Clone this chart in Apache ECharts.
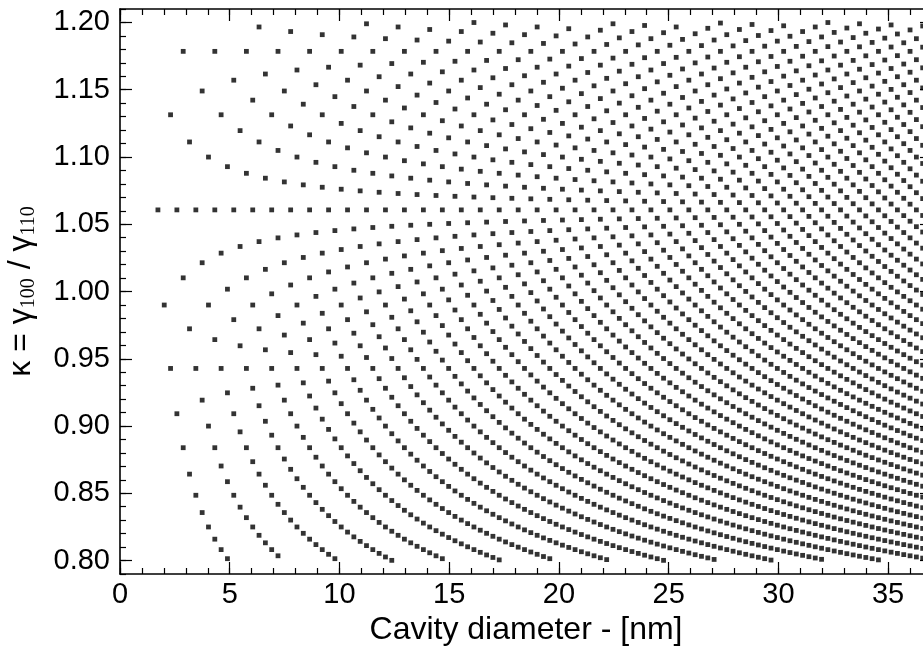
<!DOCTYPE html>
<html><head><meta charset="utf-8">
<script src="https://cdn.jsdelivr.net/npm/echarts@6/dist/echarts.min.js"></script>
<style>html,body{margin:0;padding:0;background:#fff}#c{width:923px;height:658px}</style>
</head><body><div id="c"></div>
<script>
// Each dot is one cavity: p = number of {100} layer steps, q = number of {110} layer steps.
// Columns (x spacing ~0.288 nm per p); for each column the
// lowest and highest q index of the dots present are listed.
const latticeA = 0.288;          // nm per p step (column spacing)
const firstP = 6;                // leftmost column (p = 6)
const qLow = [4,5,5,6,6,7,8,8,9,9,10,11,11,12,12,13,13,14,15,15,16,16,17,18,18,19,19,20,21,21,22,22,23,23,24,25,25,26,26,27,28,28,29,29,30,31,31,32,32,33,33,34,35,35,36,36,37,38,38,39,39,40,41,41,42,42,43,44,44,45,45,46,46,47,48,48,49,49,50,51,51,52,52,53,54,54,55,55,56,56,57,58,58,59,59,60,61,61,62,62,63,64,64,65,65,66,66,67,68,68,69,69,70,71,71,72,72,73,74,74,75,75,76];
const qHigh = [4,5,6,7,8,9,10,11,12,13,14,15,15,16,17,18,19,20,21,22,22,23,24,25,26,27,28,29,30,30,31,32,33,34,35,36,37,38,38,39,40,41,42,43,44,45,45,46,47,48,49,50,51,52,53,53,54,55,56,57,58,59,60,60,61,62,63,64,65,66,67,68,68,69,70,71,72,73,74,75,76,76,77,78,79,80,81,82,83,83,84,85,86,87,88,89,90,91,91,92,93,94,95,96,97,98,98,99,100,101,102,103,104,105,106,106,107,108,109,110,111,112,113];
const xMajorTicks = [0,5,10,15,20,25,30,35];
const yMajorTicks = [0.80,0.85,0.90,0.95,1.00,1.05,1.10,1.15,1.20];
const xRange = [0, 37];
const yRange = [0.79, 1.21];

const points = [];
for (let i = 0; i < qLow.length; i++) {
  const p = firstP + i;
  for (let q = qLow[i]; q <= qHigh[i]; q++) {
    points.push([p * latticeA, p / (q * Math.SQRT2)]);
  }
}

const FONT = "'Liberation Sans', Arial, Helvetica, sans-serif";
const black = '#000';
function xAx(pos, major) {
  return {
    type: 'value', position: pos, min: xRange[0], max: xRange[1], interval: major ? 5 : 1,
    axisLine: { show: major, onZero: false, lineStyle: { color: black, width: 1.6 } },
    axisTick: { show: true, inside: true, length: major ? 12 : 6, lineStyle: { color: black, width: 1.2 } },
    splitLine: { show: false },
    axisLabel: { show: major && pos === 'bottom', showMaxLabel: false, fontSize: 29, color: black, fontFamily: FONT, margin: 6 },
    name: (major && pos === 'bottom') ? 'Cavity diameter - [nm]' : '',
    nameLocation: 'middle', nameGap: 32,
    nameTextStyle: { fontSize: 32, color: black, fontFamily: FONT }
  };
}
function yAx(pos, major) {
  const o = {
    type: 'value', position: pos, min: yRange[0], max: yRange[1],
    axisLine: { show: major, onZero: false, lineStyle: { color: black, width: 1.6 } },
    splitLine: { show: false },
    axisTick: { show: true, inside: true, length: major ? 12 : 6, lineStyle: { color: black, width: 1.2 } },
    axisLabel: { show: major && pos === 'left', fontSize: 29, color: black, fontFamily: FONT, margin: 10,
      formatter: v => v.toFixed(2) }
  };
  if (major) {
    o.axisTick.customValues = yMajorTicks;
    o.axisLabel.customValues = yMajorTicks;
  } else {
    o.interval = 0.01;
  }
  if (major && pos === 'left') {
    o.name = '{m|\u03ba = \u03b3}{s|100}{m| / \u03b3}{s|110}';
    o.nameLocation = 'middle';
    o.nameRotate = 90;
    o.nameGap = 81;
    o.nameTextStyle = {
      color: black, fontFamily: FONT, fontSize: 32,
      rich: {
        m: { fontSize: 32, lineHeight: 36, fontFamily: FONT, color: black },
        s: { fontSize: 20, lineHeight: 5, verticalAlign: 'bottom', fontFamily: "'Liberation Serif', 'Times New Roman', serif", color: black }
      }
    };
  }
  return o;
}

const chart = echarts.init(document.getElementById('c'), null, { renderer: 'canvas' });
chart.setOption({
  animation: false,
  backgroundColor: '#fff',
  grid: { left: 120, top: 9, right: -9, bottom: 84, containLabel: false, outerBoundsMode: 'none' },
  xAxis: [xAx('bottom', true), xAx('bottom', false), xAx('top', true), xAx('top', false)],
  yAxis: [yAx('left', true), yAx('left', false), yAx('right', true), yAx('right', false)],
  series: [{
    type: 'scatter', xAxisIndex: 0, yAxisIndex: 0,
    symbol: 'rect', symbolSize: 4.8, silent: true, clip: true,
    itemStyle: { color: black },
    data: points
  }]
});
</script></body></html>
